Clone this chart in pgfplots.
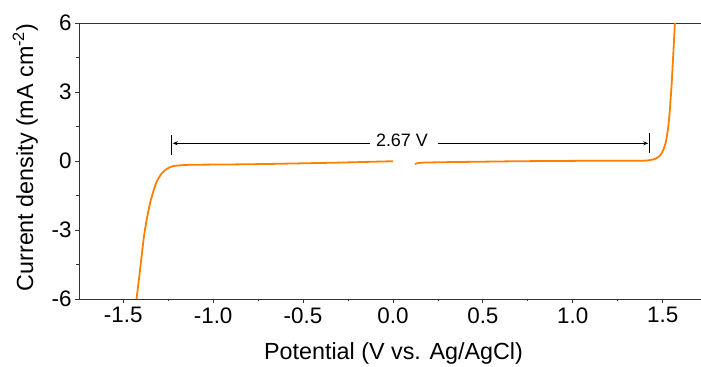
\documentclass[border=0pt]{standalone}
\usepackage{fontspec}
\setmainfont{Liberation Sans}
\usepackage{pgfplots}
\pgfplotsset{compat=1.18}
\usetikzlibrary{arrows.meta}
\definecolor{orangeline}{HTML}{FF8000}
\definecolor{spine}{HTML}{333333}
\begin{document}
\begin{tikzpicture}
\begin{axis}[
  at={(79bp,68bp)}, anchor=south west,
  width=622bp, height=276bp, scale only axis,
  xmin=-1.746, xmax=1.713, ymin=-6, ymax=6,
  axis x line*=box, axis y line*=left,
  axis line style={spine, line width=0.8pt},
  xtick pos=bottom, ytick pos=left,
  tick align=outside,
  major tick length=4bp, minor tick length=2.5bp,
  every tick/.style={spine, line width=0.8pt},
  xtick={-1.5,-1,-0.5,0,0.5,1,1.5},
  xticklabels={-1.5,-1.0,-0.5,0.0,0.5,1.0,1.5},
  minor xtick={-1.25,-0.75,-0.25,0.25,0.75,1.25},
  ytick={-6,-3,0,3,6},
  yticklabels={-6,-3,0,3,6},
  minor ytick={-4.5,-1.5,1.5,4.5},
  tick label style={font=\fontsize{22.5}{27}\selectfont},
  xticklabel style={yshift=-1bp},
  clip=false,
]
\addplot[orangeline, line width=1.8pt, smooth, tension=0.4] coordinates {
(-1.426,-6.0) (-1.411,-5.03) (-1.398,-4.16) (-1.385,-3.29) (-1.370,-2.57)
(-1.351,-1.84) (-1.333,-1.33) (-1.314,-0.90) (-1.286,-0.54) (-1.259,-0.35)
(-1.222,-0.22) (-1.147,-0.17) (-1.073,-0.16) (-0.90,-0.15) (-0.70,-0.13)
(-0.50,-0.10) (-0.30,-0.07) (-0.10,-0.03) (0.00,-0.01)
};
\addplot[orangeline, line width=1.8pt, smooth, tension=0.4] coordinates {
(0.122,-0.13) (0.14,-0.09) (0.17,-0.07) (0.3,-0.05) (0.5,-0.03)
(0.7,-0.01) (0.9,0.0) (1.1,0.01) (1.318,0.01) (1.411,0.02) (1.457,0.09)
(1.485,0.23) (1.503,0.48) (1.518,0.84) (1.531,1.49) (1.541,2.36)
(1.550,3.38) (1.559,4.68) (1.568,6.0)
};
\draw[black, line width=0.6pt] (axis cs:-1.23,0.26) -- (axis cs:-1.23,1.13);
\draw[black, line width=0.6pt] (axis cs:1.424,0.35) -- (axis cs:1.424,1.22);
\draw[black, line width=0.8pt, -{Stealth[length=5bp,width=4bp]}] (axis cs:-0.128,0.77) -- (axis cs:-1.225,0.77);
\draw[black, line width=0.8pt, -{Stealth[length=5bp,width=4bp]}] (axis cs:0.25,0.77) -- (axis cs:1.42,0.77);
\node[font=\fontsize{18}{21}\selectfont, inner sep=0pt] at (axis cs:0.05,0.91) {2.67 V};
\end{axis}
\node[anchor=base, font=\fontsize{23.4}{28}\selectfont] at (393.5bp,8bp) {Potential (V vs. Ag/AgCl)};
\node[anchor=base, rotate=90, font=\fontsize{23.4}{28}\selectfont] at (33bp,209.5bp) {Current density (mA cm\textsuperscript{-2})};
\pgfresetboundingbox
\path[use as bounding box] (0,0) rectangle (701bp,367bp);
\end{tikzpicture}
\end{document}
